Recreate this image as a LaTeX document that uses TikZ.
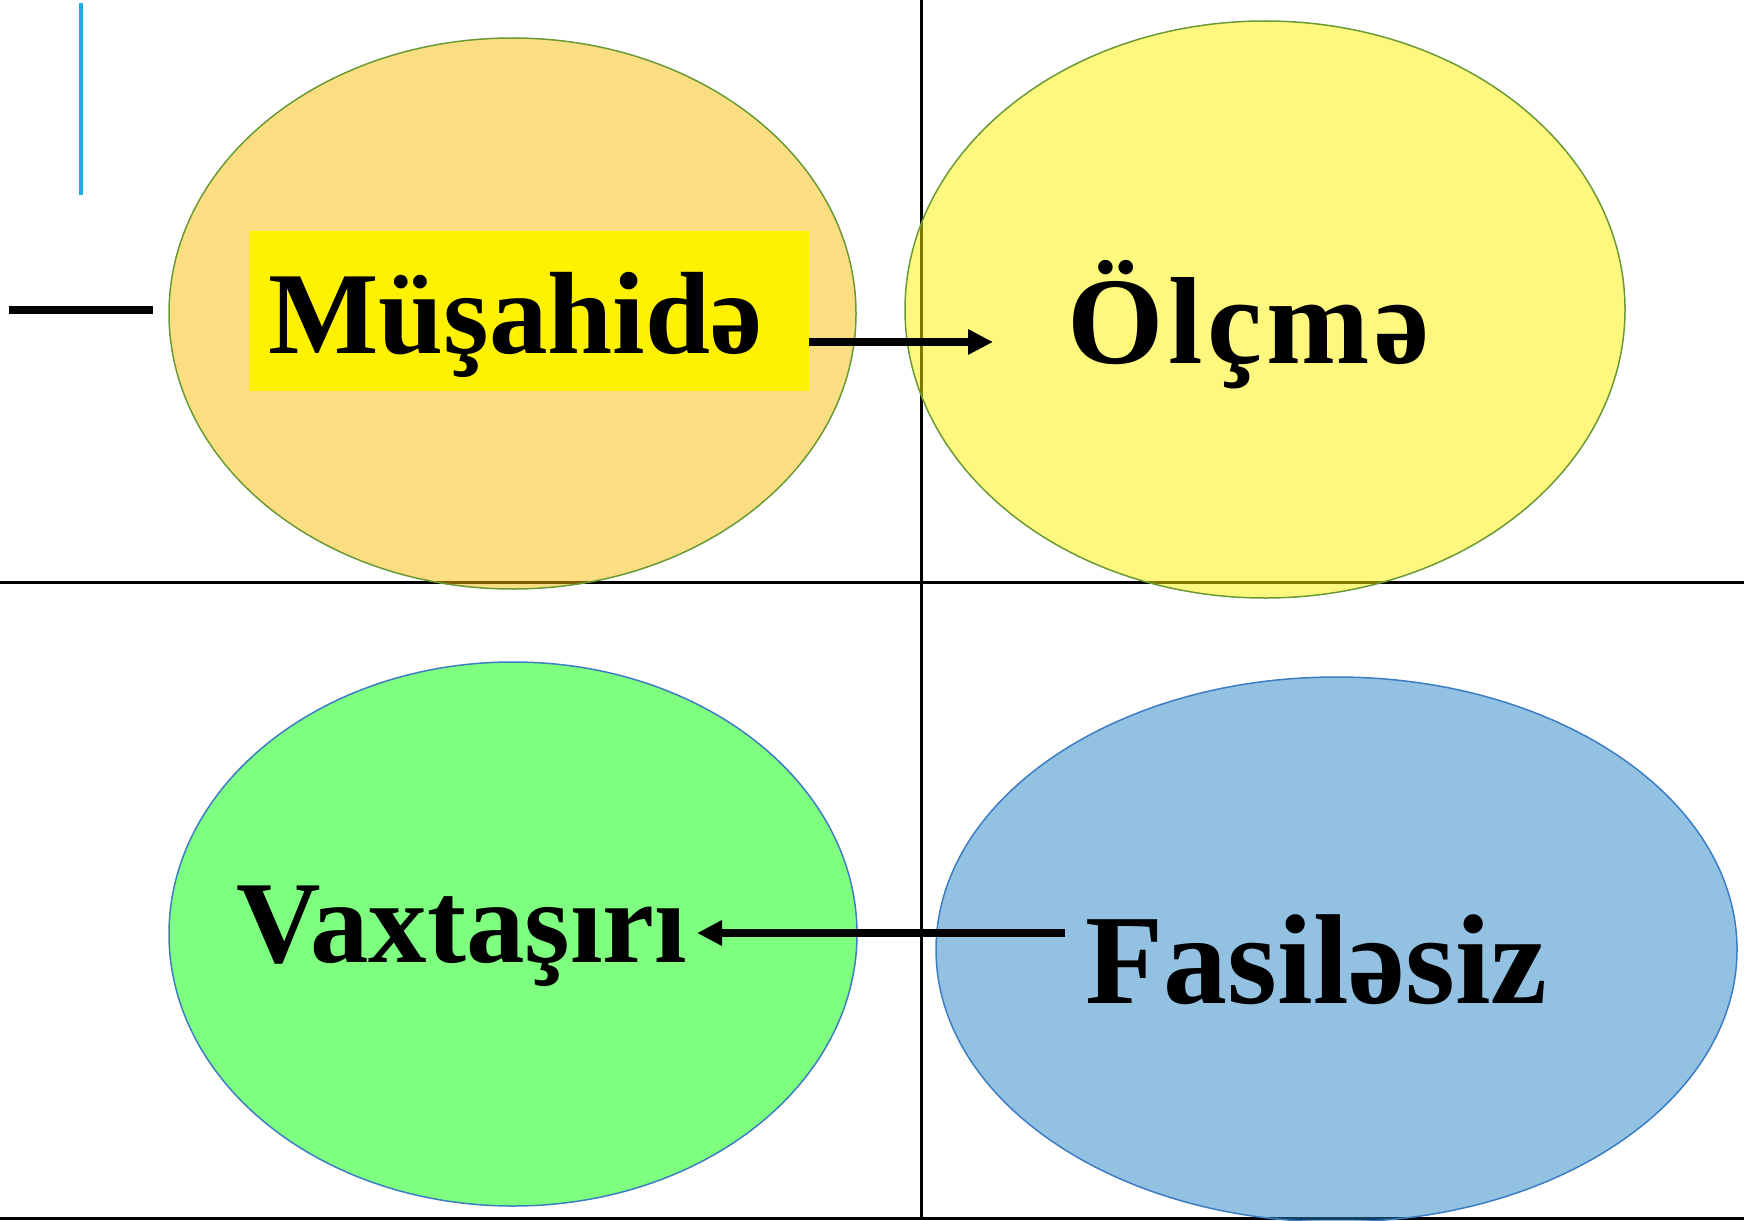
\documentclass[tikz,border=0pt]{standalone}
\usepackage{fontspec}
\setmainfont{Liberation Serif}
\newfontfamily\spacedserif[LetterSpace=3.5]{Liberation Serif}
\usetikzlibrary{shapes.geometric, arrows.meta}

\definecolor{goldfill}{HTML}{F9BD05}
\definecolor{limefill}{HTML}{00FF00}
\definecolor{skyfill}{HTML}{2683C6}
\definecolor{olivedge}{HTML}{6A9A35}
\definecolor{bluedge}{HTML}{3C7DC4}
\definecolor{cyanbar}{HTML}{1CADE4}

\tikzset{
  bubble/.style={ellipse, draw, line width=0.75pt, fill opacity=0.5, inner sep=0pt},
  word/.style={font=\bfseries\fontsize{58.5pt}{60pt}\selectfont, inner sep=0pt, anchor=base west},
  rule/.style={line width=1.5pt},
  arr/.style={line width=4pt, -{Triangle[length=12.5pt, width=12pt]}},
}

\begin{document}
\begin{tikzpicture}[x=0.5pt, y=-0.5pt]
\useasboundingbox (0,0) rectangle (1744,1220);
% ---- cross lines and frame ----
\draw[rule] (921,0) -- (921,1220);
\draw[rule] (0,582) -- (1744,582);
\draw[rule] (0,1218.5) -- (1744,1218.5);
\draw[cyanbar, line width=1.8pt] (81,3) -- (81,195);
\draw[line width=4pt] (9,310) -- (153,310);
% ---- bubbles ----
\node[bubble, draw=olivedge, fill=goldfill, minimum width=343.5pt, minimum height=275.5pt] (obsell) at (512.5,313.5) {};
\node[bubble, draw=olivedge, fill=yellow, minimum width=360pt, minimum height=288.5pt] (olcell) at (1265,309.5) {};
\node[bubble, draw=bluedge, fill=limefill, minimum width=344pt, minimum height=272pt] (vaxell) at (513,934) {};
\node[bubble, draw=bluedge, fill=skyfill, minimum width=400.5pt, minimum height=272.5pt] (fasell) at (1336.5,949.5) {};
% ---- words ----
\node[fill=yellow, minimum width=280pt, minimum height=80pt, inner sep=0pt] (obsbox) at (529,311) {};
\node[word] (obs) at (268,353) {Müşahidə};
\node[word, font=\spacedserif\bfseries\fontsize{62pt}{64pt}\selectfont] (olc) at (1067,363) {Ölçmə};
\node[word] (vax) at (236,962) {Vaxtaşırı};
\node[word, font=\bfseries\fontsize{64pt}{66pt}\selectfont] (fas) at (1085,1003) {Fasiləsiz};
% ---- arrows ----
\coordinate (olctip) at (993,342);
\coordinate (vaxtip) at (697,933);
\coordinate (fastail) at (1065,933);
\draw[arr] (obsbox.east |- olctip) -- (olctip);
\draw[arr] (fastail) -- (vaxtip);
\end{tikzpicture}
\end{document}
